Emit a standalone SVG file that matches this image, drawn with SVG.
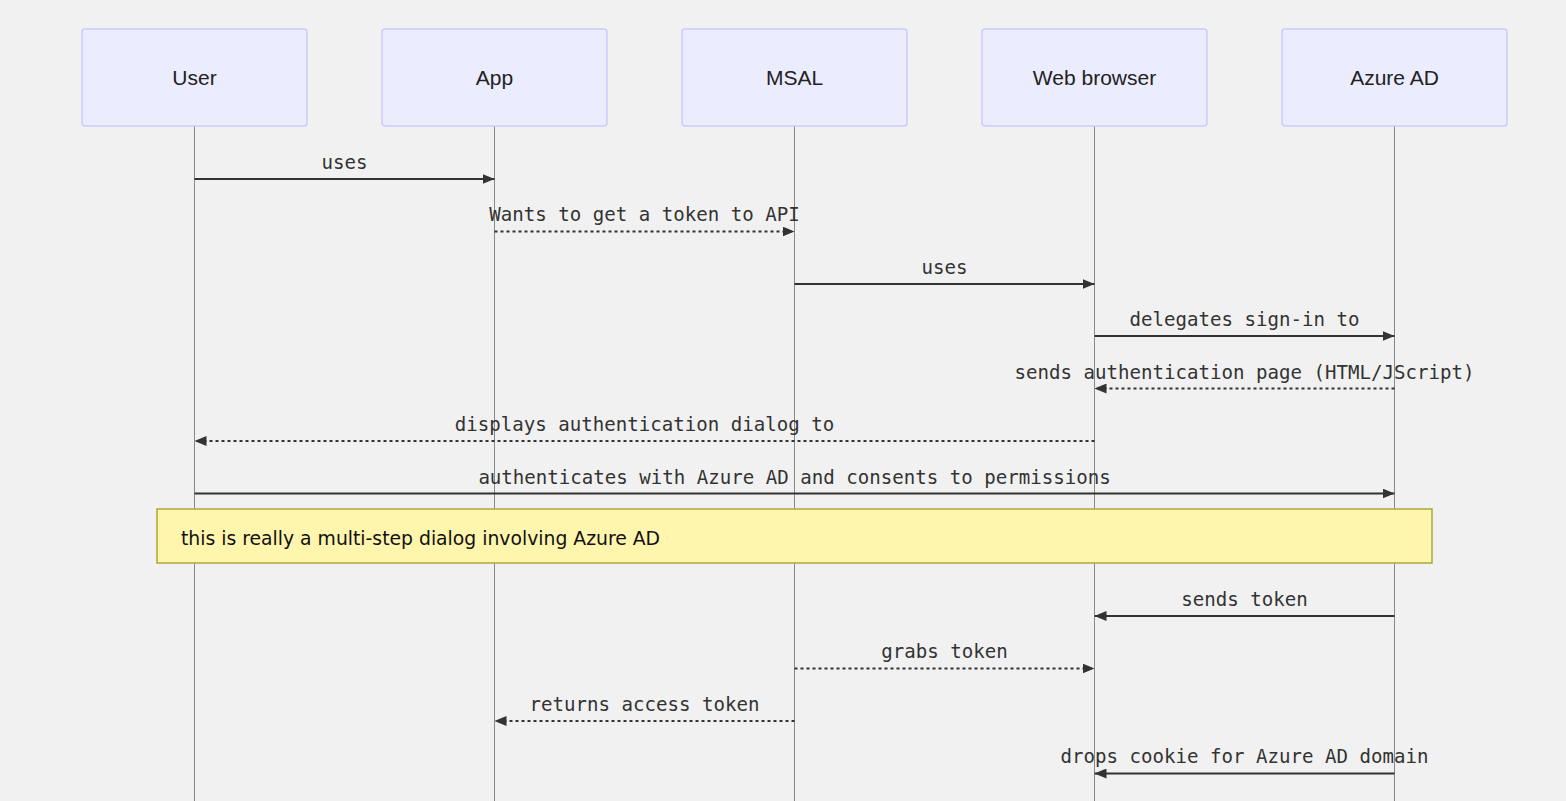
<svg xmlns="http://www.w3.org/2000/svg" width="1566" height="801" viewBox="0 0 1566 801">
<defs>
<marker id="ah" viewBox="0 0 12 10" refX="12" refY="5" markerWidth="12" markerHeight="10" markerUnits="userSpaceOnUse" orient="auto">
<path d="M0,0 L12,5 L0,10 z" fill="#333"/>
</marker>
<style>
.actor rect{fill:#ECECFF;stroke:#CCCCFF;stroke-width:1.5}
.actor text{font-family:"Liberation Sans",Arial,sans-serif;font-size:21px;fill:#222;text-anchor:middle;dominant-baseline:central}
.life{stroke:#888;stroke-width:1}
.msg{stroke:#333;stroke-width:2;fill:none;marker-end:url(#ah)}
.dash{stroke-dasharray:3,3}
.lbl{font-family:"DejaVu Sans Mono",monospace;font-size:19.1px;fill:#333;text-anchor:middle}
.note rect{fill:#FFF5AD;stroke:#AAAA33;stroke-width:1.5}
.note text{font-family:"DejaVu Sans",sans-serif;font-size:18.8px;fill:#111;dominant-baseline:central}
</style>
</defs>
<rect width="1566" height="801" fill="#F1F1F1"/>
<g id="lifelines">
<line class="life" x1="194.5" y1="126" x2="194.5" y2="801"/>
<line class="life" x1="494.5" y1="126" x2="494.5" y2="801"/>
<line class="life" x1="794.5" y1="126" x2="794.5" y2="801"/>
<line class="life" x1="1094.5" y1="126" x2="1094.5" y2="801"/>
<line class="life" x1="1394.5" y1="126" x2="1394.5" y2="801"/>
</g>
<g id="user" class="actor"><rect x="82" y="29" width="225" height="97" rx="3"/><text x="194.5" y="77">User</text></g>
<g id="app" class="actor"><rect x="382" y="29" width="225" height="97" rx="3"/><text x="494.5" y="77">App</text></g>
<g id="msal" class="actor"><rect x="682" y="29" width="225" height="97" rx="3"/><text x="794.5" y="77">MSAL</text></g>
<g id="browser" class="actor"><rect x="982" y="29" width="225" height="97" rx="3"/><text x="1094.5" y="77">Web browser</text></g>
<g id="azuread" class="actor"><rect x="1282" y="29" width="225" height="97" rx="3"/><text x="1394.5" y="77">Azure AD</text></g>
<g id="connectors">
<line class="msg" x1="194.5" y1="179" x2="494.5" y2="179"/>
<text class="lbl" x="344.5" y="169">uses</text>
<line class="msg dash" x1="494.5" y1="231.5" x2="794.5" y2="231.5"/>
<text class="lbl" x="644.5" y="221">Wants to get a token to API</text>
<line class="msg" x1="794.5" y1="284" x2="1094.5" y2="284"/>
<text class="lbl" x="944.5" y="274">uses</text>
<line class="msg" x1="1094.5" y1="336" x2="1394.5" y2="336"/>
<text class="lbl" x="1244.5" y="326">delegates sign-in to</text>
<line class="msg dash" x1="1394.5" y1="388.5" x2="1094.5" y2="388.5"/>
<text class="lbl" x="1244.5" y="379">sends authentication page (HTML/JScript)</text>
<line class="msg dash" x1="1094.5" y1="441" x2="194.5" y2="441"/>
<text class="lbl" x="644.5" y="431">displays authentication dialog to</text>
<line class="msg" x1="194.5" y1="493.5" x2="1394.5" y2="493.5"/>
<text class="lbl" x="794.5" y="484">authenticates with Azure AD and consents to permissions</text>
<line class="msg" x1="1394.5" y1="616" x2="1094.5" y2="616"/>
<text class="lbl" x="1244.5" y="606">sends token</text>
<line class="msg dash" x1="794.5" y1="668.5" x2="1094.5" y2="668.5"/>
<text class="lbl" x="944.5" y="658">grabs token</text>
<line class="msg dash" x1="794.5" y1="721" x2="494.5" y2="721"/>
<text class="lbl" x="644.5" y="711">returns access token</text>
<line class="msg" x1="1394.5" y1="773.5" x2="1094.5" y2="773.5"/>
<text class="lbl" x="1244.5" y="763">drops cookie for Azure AD domain</text>
</g>
<g id="note" class="note"><rect x="157" y="509" width="1275" height="54"/><text x="181" y="538">this is really a multi-step dialog involving Azure AD</text></g>
</svg>
